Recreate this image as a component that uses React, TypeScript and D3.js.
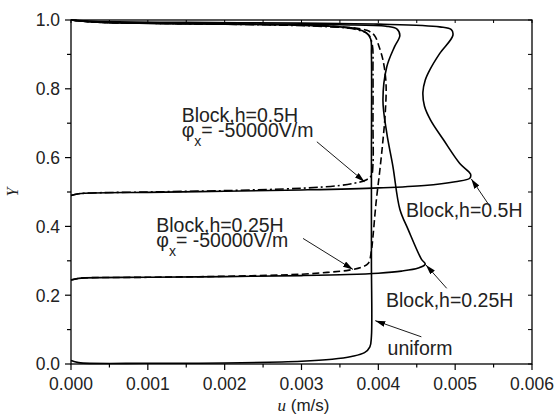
import React from "react";
import * as d3 from "d3";

type Pt = [number, number];

// velocity profiles: [u (m/s), Y]
const uniform: Pt[] = [
  [0, 0.01], [0.0001, 0.004], [0.001, 0.002], [0.002, 0.003], [0.003, 0.008],
  [0.0034, 0.014], [0.00365, 0.022], [0.00382, 0.033], [0.00389, 0.05], [0.00391, 0.08],
  [0.00391, 0.3], [0.00391, 0.6], [0.00391, 0.9], [0.0039, 0.945], [0.00384, 0.963],
  [0.00372, 0.974], [0.0035, 0.98], [0.003, 0.985], [0.002, 0.988], [0.001, 0.99],
  [0.0003, 0.994], [0, 1.0],
];

const block25: Pt[] = [
  [0, 0.244], [0.0001, 0.249], [0.001, 0.252], [0.002, 0.254], [0.003, 0.257],
  [0.0036, 0.26], [0.004, 0.264], [0.0043, 0.27], [0.00452, 0.279], [0.00461, 0.29],
  [0.00456, 0.305], [0.00439, 0.39], [0.00428, 0.45], [0.00419, 0.574], [0.00411, 0.671],
  [0.00406, 0.767], [0.00411, 0.864], [0.00421, 0.922], [0.00428, 0.955], [0.00424, 0.974],
  [0.0041, 0.982], [0.0035, 0.986], [0.0025, 0.988], [0.0012, 0.99], [0.0003, 0.994], [0, 1.0],
];

const block50: Pt[] = [
  [0, 0.49], [0.0001, 0.495], [0.001, 0.499], [0.002, 0.502], [0.003, 0.506],
  [0.004, 0.512], [0.0046, 0.519], [0.005, 0.53], [0.00519, 0.54], [0.0052, 0.552],
  [0.00506, 0.583], [0.00485, 0.651], [0.00468, 0.709], [0.0046, 0.75], [0.00458, 0.79],
  [0.00461, 0.825], [0.00467, 0.855], [0.0048, 0.903], [0.00497, 0.955], [0.00495, 0.972],
  [0.0048, 0.98], [0.004, 0.988], [0.003, 0.991], [0.0015, 0.993], [0.0003, 0.996], [0, 1.0],
];

const block25Phi: Pt[] = [
  [0, 0.244], [0.0001, 0.249], [0.001, 0.252], [0.002, 0.255], [0.003, 0.261],
  [0.00337, 0.267], [0.00362, 0.273], [0.00378, 0.281], [0.00387, 0.293], [0.00391, 0.33],
  [0.00393, 0.37], [0.00397, 0.468], [0.00402, 0.564], [0.00406, 0.65], [0.00409, 0.73],
  [0.0041, 0.816], [0.00406, 0.884], [0.00401, 0.922], [0.00395, 0.955], [0.00385, 0.97],
  [0.0035, 0.98], [0.0025, 0.987], [0.0012, 0.99], [0.0003, 0.994], [0, 1.0],
];

const block50Phi: Pt[] = [
  [0, 0.49], [0.0001, 0.495], [0.001, 0.5], [0.002, 0.504], [0.003, 0.511],
  [0.0035, 0.519], [0.0037, 0.526], [0.00384, 0.535], [0.00391, 0.548], [0.00393, 0.58],
  [0.00393, 0.7], [0.00393, 0.85], [0.00392, 0.93], [0.00387, 0.958], [0.0037, 0.973],
  [0.0033, 0.981], [0.0025, 0.986], [0.0012, 0.99], [0.0003, 0.994], [0, 1.0],
];

const series = [
  { name: "uniform", values: uniform, dash: "none" },
  { name: "block25", values: block25, dash: "none" },
  { name: "block50", values: block50, dash: "none" },
  { name: "block25Phi", values: block25Phi, dash: "7,3.5" },
  { name: "block50Phi", values: block50Phi, dash: "9,3,2,3" },
];

const xTicks = [0, 0.001, 0.002, 0.003, 0.004, 0.005, 0.006];
const xMinor = [0.0005, 0.0015, 0.0025, 0.0035, 0.0045, 0.0055];
const yTicks = [0, 0.2, 0.4, 0.6, 0.8, 1.0];
const yMinor = [0.1, 0.3, 0.5, 0.7, 0.9];

// annotation arrows: [from, to] in data units
const arrows: [Pt, Pt][] = [
  [[0.0032, 0.646], [0.00382, 0.53]],
  [[0.00302, 0.365], [0.00367, 0.275]],
  [[0.00545, 0.459], [0.00521, 0.538]],
  [[0.00489, 0.22], [0.00462, 0.288]],
  [[0.00456, 0.079], [0.00396, 0.126]],
];

const labels: { text: string; at: Pt }[] = [
  { text: "Block,h=0.5H", at: [0.00436, 0.428] },
  { text: "Block,h=0.25H", at: [0.0041, 0.167] },
  { text: "uniform", at: [0.00412, 0.025] },
];

const phiLabels: { title: string; at: Pt }[] = [
  { title: "Block,h=0.5H", at: [0.00144, 0.704] },
  { title: "Block,h=0.25H", at: [0.00111, 0.385] },
];

const width = 557;
const height = 416;
const margin = { top: 20, right: 25, bottom: 52, left: 71 };
const innerWidth = width - margin.left - margin.right;
const innerHeight = height - margin.top - margin.bottom;
const font = "'Liberation Sans', Arial, Helvetica, sans-serif";
const serif = "'Liberation Serif', 'Times New Roman', serif";

const App = () => {
  const x = d3.scaleLinear().domain([0, 0.006]).range([0, innerWidth]);
  const y = d3.scaleLinear().domain([0, 1]).range([innerHeight, 0]);

  const line = d3
    .line<Pt>()
    .x((d) => x(d[0]))
    .y((d) => y(d[1]))
    .curve(d3.curveCatmullRom.alpha(0.5));

  return (
    <svg
      width={width}
      height={height}
      style={{ position: "absolute", left: 0, top: 0, background: "#fff" }}
    >
      <defs>
        <marker
          id="arrow"
          markerUnits="userSpaceOnUse"
          markerWidth={11}
          markerHeight={6}
          refX={10}
          refY={3}
          orient="auto"
        >
          <path d="M0,0 L10,3 L0,6 Z" fill="#000" />
        </marker>
      </defs>
      <g transform={`translate(${margin.left},${margin.top})`}>
        {/* Curves */}
        {series.map((s) => (
          <path
            key={s.name}
            d={line(s.values) || ""}
            fill="none"
            stroke="#000"
            strokeWidth={1.6}
            strokeDasharray={s.dash}
          />
        ))}

        {/* Frame */}
        <rect
          x={0}
          y={0}
          width={innerWidth}
          height={innerHeight}
          fill="none"
          stroke="#000"
          strokeWidth={1.3}
        />

        {/* X axis */}
        {xTicks.map((t) => (
          <g key={`x-${t}`}>
            <line x1={x(t)} x2={x(t)} y1={innerHeight} y2={innerHeight + 6} stroke="#000" strokeWidth={1.2} />
            <line x1={x(t)} x2={x(t)} y1={0} y2={3} stroke="#000" strokeWidth={1} />
            <text
              x={x(t)}
              y={innerHeight + 26}
              textAnchor="middle"
              fontSize={17.5}
              fontFamily={font}
              fill="#222"
            >
              {d3.format(".3f")(t)}
            </text>
          </g>
        ))}
        {xMinor.map((t) => (
          <g key={`xm-${t}`}>
            <line x1={x(t)} x2={x(t)} y1={innerHeight} y2={innerHeight + 3.5} stroke="#000" strokeWidth={1.2} />
            <line x1={x(t)} x2={x(t)} y1={0} y2={3} stroke="#000" strokeWidth={1} />
          </g>
        ))}

        {/* Y axis */}
        {yTicks.map((t) => (
          <g key={`y-${t}`}>
            <line x1={-6} x2={0} y1={y(t)} y2={y(t)} stroke="#000" strokeWidth={1.2} />
            <line x1={innerWidth - 4} x2={innerWidth} y1={y(t)} y2={y(t)} stroke="#000" strokeWidth={1} />
            <text
              x={-11}
              y={y(t)}
              dy="0.36em"
              textAnchor="end"
              fontSize={17.5}
              fontFamily={font}
              fill="#222"
            >
              {d3.format(".1f")(t)}
            </text>
          </g>
        ))}
        {yMinor.map((t) => (
          <g key={`ym-${t}`}>
            <line x1={-4} x2={0} y1={y(t)} y2={y(t)} stroke="#000" strokeWidth={1.2} />
            <line x1={innerWidth - 4} x2={innerWidth} y1={y(t)} y2={y(t)} stroke="#000" strokeWidth={1} />
          </g>
        ))}

        {/* Axis titles */}
        <text
          x={innerWidth / 2 + 2}
          y={innerHeight + 47}
          textAnchor="middle"
          fontSize={17}
          fontFamily={font}
          fill="#222"
        >
          <tspan fontFamily={serif} fontStyle="italic">u</tspan> (m/s)
        </text>
        <text
          transform={`translate(${-53},${innerHeight / 2}) rotate(-90)`}
          textAnchor="middle"
          fontSize={16}
          fontFamily={serif}
          fontStyle="italic"
          fill="#222"
        >
          Y
        </text>

        {/* Arrows */}
        {arrows.map(([a, b], i) => (
          <line
            key={`arrow-${i}`}
            x1={x(a[0])}
            y1={y(a[1])}
            x2={x(b[0])}
            y2={y(b[1])}
            stroke="#000"
            strokeWidth={0.9}
            markerEnd="url(#arrow)"
          />
        ))}

        {/* Labels */}
        {labels.map((l) => (
          <text
            key={l.text}
            x={x(l.at[0])}
            y={y(l.at[1])}
            fontSize={19.5}
            fontFamily={font}
            fill="#222"
          >
            {l.text}
          </text>
        ))}
        {phiLabels.map((l) => (
          <g key={l.title}>
            <text x={x(l.at[0])} y={y(l.at[1])} fontSize={19.5} fontFamily={font} fill="#222">
              {l.title}
            </text>
            <text x={x(l.at[0])} y={y(l.at[1]) + 15} fontSize={19.5} fontFamily={font} fill="#222">
              <tspan>φ</tspan>
              <tspan fontSize={14} dy={9}>x</tspan>
              <tspan dy={-9}>= -50000V/m</tspan>
            </text>
          </g>
        ))}
      </g>
    </svg>
  );
};

export default App;
